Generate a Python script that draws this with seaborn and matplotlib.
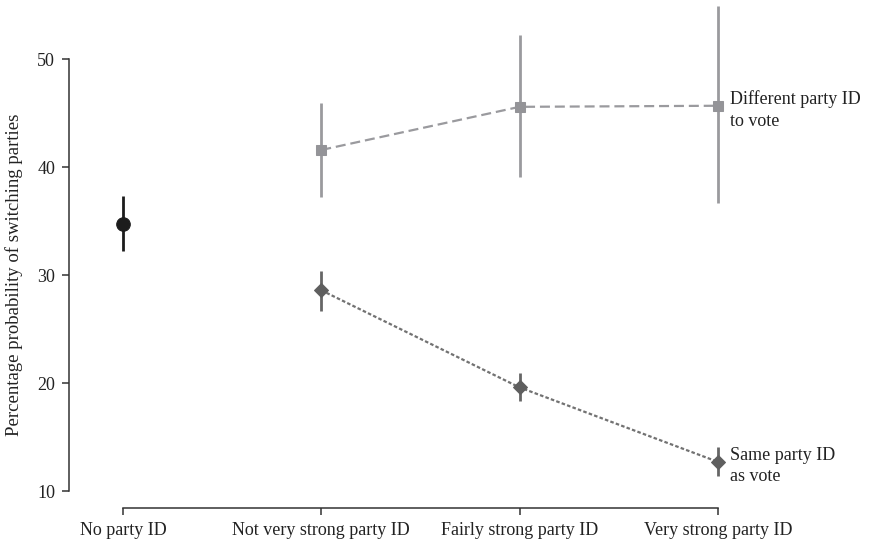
import numpy as np
import pandas as pd
import matplotlib
matplotlib.use("Agg")
import matplotlib.pyplot as plt
import matplotlib.transforms as mtransforms
import seaborn as sns

# categories on the x axis
categories = ["No party ID", "Not very strong party ID",
              "Fairly strong party ID", "Very strong party ID"]

# no party ID (single point)
none_est = [34.7]
none_lo = [32.2]
none_hi = [37.3]

# different party ID to vote
diff_est = [41.6, 45.6, 45.7]
diff_lo = [37.2, 39.1, 36.7]
diff_hi = [46.0, 52.3, 54.9]

# same party ID as vote
same_est = [28.6, 19.6, 12.7]
same_lo = [26.7, 18.3, 11.4]
same_hi = [30.4, 20.9, 14.1]

y_ticks = [10, 20, 30, 40, 50]

sns.set_style("ticks")
plt.rcParams["font.family"] = ["Liberation Serif", "DejaVu Serif"]

none_df = pd.DataFrame({"pos": [0], "est": none_est, "lo": none_lo, "hi": none_hi})
diff_df = pd.DataFrame({"pos": [1, 2, 3], "est": diff_est, "lo": diff_lo, "hi": diff_hi})
same_df = pd.DataFrame({"pos": [1, 2, 3], "est": same_est, "lo": same_lo, "hi": same_hi})

fig = plt.figure(figsize=(8.7, 5.47), dpi=100)
ax = fig.add_axes([69 / 870, 56 / 547, 801 / 870, 491 / 547])

black = "#1c1c1c"
light = "#9a9a9e"
dark = "#5f5f5f"

# confidence intervals
ax.vlines(none_df["pos"], none_df["lo"], none_df["hi"], color=black, lw=2, zorder=2)
ax.vlines(diff_df["pos"], diff_df["lo"], diff_df["hi"], color=light, lw=2, zorder=2)
ax.vlines(same_df["pos"], same_df["lo"], same_df["hi"], color="#666666", lw=2, zorder=2)

# point estimates
sns.scatterplot(data=none_df, x="pos", y="est", ax=ax, color=black, s=95,
                marker="o", edgecolor=black, zorder=3)
sns.lineplot(data=diff_df, x="pos", y="est", ax=ax, color=light, lw=1.6,
             linestyle=(0, (4.5, 2.2)), marker="s", markersize=7.8,
             markerfacecolor="#949498", markeredgecolor="#949498", zorder=3)
sns.lineplot(data=same_df, x="pos", y="est", ax=ax, color="#727272", lw=1.6,
             linestyle=(0, (1.6, 1.0)), marker="D", markersize=7,
             markerfacecolor=dark, markeredgecolor=dark, zorder=3)

ax.annotate("Different party ID\nto vote", xy=(3, diff_est[-1]), xytext=(9, 0),
            textcoords="offset points", ha="left", va="center_baseline",
            fontsize=13, color="#222222", linespacing=1.35)
ax.annotate("Same party ID\nas vote", xy=(3, same_est[-1]), xytext=(9, 0),
            textcoords="offset points", ha="left", va="center_baseline",
            fontsize=13, color="#222222", linespacing=1.35)

ax.set_xlim(-0.272, 3.767)
ax.set_ylim(10, 55.5)
ax.set_xticks(range(len(categories)))
ax.set_xticklabels(categories)
ax.set_yticks(y_ticks)
ax.set_xlabel("")
ax.set_ylabel("Percentage probability of switching parties", fontsize=13.5,
              color="#222222")
ax.yaxis.set_label_coords(-0.058, 30,
                          transform=mtransforms.blended_transform_factory(ax.transAxes, ax.transData))

sns.despine(ax=ax)
ax.spines["left"].set_bounds(10, 50)
ax.spines["bottom"].set_bounds(0, 3)
ax.spines["bottom"].set_position(("outward", 12))
for s in ["left", "bottom"]:
    ax.spines[s].set_color("#333333")
    ax.spines[s].set_linewidth(1.1)
ax.tick_params(axis="both", direction="out", length=5, width=1.1,
               color="#333333", labelsize=13, labelcolor="#222222", pad=5)

fig.savefig("out.png", dpi=100)
